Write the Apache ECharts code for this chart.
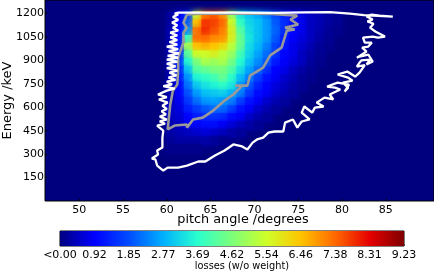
<!DOCTYPE html>
<html><head><meta charset="utf-8">
<style>html,body{margin:0;padding:0;background:#fff}#c{width:434px;height:273px}</style>
<script src="https://cdn.jsdelivr.net/npm/echarts@6/dist/echarts.min.js"></script>
</head><body><div id="c"></div>
<script>
const xTicks=[50,55,60,65,70,75,80,85];
const yTicks=[150,300,450,600,750,900,1050,1200];
const barLabels=['<0.00','0.92','1.85','2.77','3.69','4.62','5.54','6.46','7.38','8.31','9.23'];
const jet=['#00007f','#0000ff','#004cff','#00b0ff','#29ffce','#7dff7a','#ceff29','#ffc400','#ff6800','#e60000','#7f0000'];
const angleBins=[60.5,61.5,62.5,63.5,64.5,65.5,66.5,67.5,68.5,69.5,70.5,71.5,72.5,73.5,74.5,75.5,76.5,77.5,78.5,79.5,80.5];
const energyBins=[1185,1135,1085,1035,985,935,885,835,785,735,685,635,585,535,485,435,385,335];
const r1185=[.2,.9,1.6,5.5,7.2,7.5,7.0,5.0,3.4,3.0,2.7,2.3,1.8,1.4,1.0,.7,.5,.4,.25,.15,0];
const r1135=[.2,1.0,2.0,6.4,7.8,7.7,7.4,5.6,3.8,3.2,3.0,2.6,2.0,1.5,1.1,.8,.5,.4,.25,.15,0];
const r1085=[.3,1.0,2.5,7.2,7.9,7.6,7.2,5.8,4.2,3.3,3.0,2.6,2.1,1.5,1.0,.8,.5,.35,.2,.1,0];
const r1035=[.3,1.0,3.8,7.3,7.4,7.1,7.0,5.8,4.4,3.4,3.0,2.6,2.0,1.3,.9,.7,.5,.3,.15,0,0];
const r985=[.3,1.1,5.0,6.5,6.7,6.5,6.2,5.4,4.4,3.3,2.9,2.4,1.8,1.2,.8,.6,.4,.2,.1,0,0];
const r935=[.3,1.2,4.2,5.6,5.6,5.8,5.4,5.0,4.0,3.2,2.7,2.2,1.6,1.0,.8,.5,.3,.15,0,0,0];
const r885=[.3,1.5,3.6,4.6,5.2,5.0,5.2,4.6,3.7,3.0,2.5,2.0,1.3,.9,.7,.5,.25,.1,0,0,0];
const r835=[.3,1.3,3.0,4.2,4.4,4.6,4.6,4.2,3.4,2.7,2.2,1.6,1.0,.8,.5,.3,.15,0,0,0,0];
const r785=[.3,1.2,2.5,3.6,3.8,4.0,4.4,3.8,3.0,2.4,1.8,1.2,.9,.6,.4,.2,.1,0,0,0,0];
const r735=[.3,1.0,2.2,3.1,3.4,3.6,3.8,3.5,2.6,2.0,1.4,1.0,.7,.5,.3,.15,0,0,0,0,0];
const r685=[.3,.9,1.9,2.6,3.0,3.1,3.2,2.9,2.4,1.7,1.1,.9,.6,.4,.2,0,0,0,0,0,0];
const r635=[.4,.8,1.6,2.2,2.6,2.7,2.6,2.4,1.8,1.2,.9,.6,.4,.2,0,0,0,0,0,0,0];
const r585=[.5,.7,1.3,1.7,2.0,2.2,2.2,1.8,1.2,.9,.6,.4,.2,0,0,0,0,0,0,0,0];
const r535=[.5,.6,1.0,1.3,1.5,1.6,1.5,1.1,.9,.6,.4,.2,0,0,0,0,0,0,0,0,0];
const r485=[.4,.5,.9,1.0,1.1,1.1,.9,.7,.5,.3,.15,0,0,0,0,0,0,0,0,0,0];
const r435=[.3,.4,.5,.6,.7,.6,.5,.3,.2,0,0,0,0,0,0,0,0,0,0,0,0];
const r385=[.2,.3,.3,.3,.3,.2,.1,0,0,0,0,0,0,0,0,0,0,0,0,0,0];
const r335=[.1,.1,.1,.1,0,0,0,0,0,0,0,0,0,0,0,0,0,0,0,0,0];
const heatRows=[r1185,r1135,r1085,r1035,r985,r935,r885,r835,r785,r735,r685,r635,r585,r535,r485,r435,r385,r335];
const whiteLine=[[85.8,1181],[84.3,1187],[83.4,1194],[82.8,1181],[83.5,1162],[82.9,1150],[83,1142],[83.6,1135],[83.2,1110],[83.8,1085],[84.9,1053],[84.1,1046],[83.5,1053],[82.4,1046],[82.6,1014],[83.4,1014],[83,989],[82.3,982],[82.8,957],[81.7,918],[82,925],[83,938],[83.5,893],[82.8,874],[83.2,905],[82.2,900],[82,886],[81.7,861],[82.6,870],[82,822],[81.5,797],[80.6,829],[79.5,810],[80.7,790],[81.2,770],[80.1,758],[80.7,726],[80.3,701],[80.8,745],[79.5,758],[78.3,733],[79.2,726],[79.8,714],[78.6,682],[79,650],[78,662],[77.1,630],[77.9,605],[76.9,598],[76.6,566],[75.7,605],[75.4,566],[76.3,522],[75.4,509],[74.9,470],[74.4,522],[73.5,502],[73.3,445],[72.3,445],[71.6,438],[71,406],[70.3,394],[69.8,374],[69.2,330],[68.6,349],[67.6,362],[66.6,323],[65.5,291],[64.4,253],[63.6,253],[62.3,227],[61.3,214],[60.1,214],[59.6,195],[58.9,227],[58.7,266],[58.3,272],[59,298],[58.9,323],[59.5,342],[59.5,406],[59.6,451],[58.9,483],[59.8,495],[59.2,510],[60,522],[59.2,540],[59.9,555],[59.4,575],[60,590],[59.5,610],[60.1,630],[59.1,650],[60,665],[59,682],[60,707],[60.9,720],[59.6,735],[60.6,746],[60,765],[61,775],[60.2,790],[61.1,805],[60.3,822],[61.2,835],[60,850],[61,862],[60,880],[61.2,892],[60,905],[61.3,918],[60.1,930],[61.4,945],[60.2,960],[61.3,972],[60,989],[61.2,1002],[60.3,1018],[61.2,1030],[60.4,1048],[61.2,1060],[60.4,1078],[61.3,1092],[60.7,1110],[61.2,1125],[60.6,1142],[61.3,1160],[60.7,1178],[61.3,1194],[60.9,1200],[61.3,1206],[63.6,1206],[67.8,1206],[72.3,1204],[75.7,1208],[78.6,1210],[80.9,1200],[82.5,1190],[85.8,1181]];
const grayLine=[[62.3,1194],[61.9,1142],[62.3,1110],[61.9,1078],[61.9,1014],[61.3,918],[61.3,842],[61.2,746],[60.7,707],[60.4,618],[60.1,458],[60.9,483],[62.3,490],[62.3,470],[63,522],[64.1,534],[65.3,579],[66.6,643],[67.6,682],[68.6,739],[67.8,739],[69.2,739],[69.5,803],[71,854],[71.8,932],[73.1,982],[73.7,1091],[74.6,1098],[73.5,1110],[75,1130],[74.1,1162],[74.9,1187],[72,1198],[68,1201],[64,1200],[62.3,1194]];
const heatData=[];
heatRows.forEach((row,i)=>row.forEach((v,j)=>{if(v>0)heatData.push([angleBins[j],energyBins[i],v]);}));
const chart=echarts.init(document.getElementById('c'),null,{renderer:'canvas'});
const font='DejaVu Sans';
chart.setOption({
 animation:false,backgroundColor:'#fff',
 grid:[{left:45,right:0,top:0,height:201,show:true,outerBoundsMode:'none',containLabel:false,backgroundColor:'#00007f',borderColor:'#000',borderWidth:1},
       {left:60,right:30,top:231,height:15,show:true,outerBoundsMode:'none',containLabel:false,borderColor:'#000',borderWidth:1}],
 visualMap:[{show:false,seriesIndex:0,dimension:2,min:0,max:9.23,inRange:{color:jet}}],
 xAxis:[{type:'value',gridIndex:0,min:46.1,max:90.5,splitLine:{show:false},
   axisLine:{show:false},axisTick:{inside:true,length:2,customValues:xTicks,lineStyle:{color:'#000'}},
   axisLabel:{customValues:xTicks,color:'#000',fontFamily:font,fontSize:11,margin:4},
   name:'pitch angle /degrees',nameLocation:'middle',nameGap:12,nameMoveOverlap:false,nameTextStyle:{color:'#000',fontFamily:font,fontSize:12.8,padding:[0,0,0,7]}},
  {type:'value',gridIndex:1,min:0,max:10,interval:1,splitLine:{show:false},axisLine:{show:false},
   axisTick:{inside:true,length:2,lineStyle:{color:'rgba(0,0,0,0.35)'}},
   axisLabel:{color:'#000',fontFamily:font,fontSize:11,margin:4,hideOverlap:false,showMinLabel:true,showMaxLabel:true,formatter:(v)=>barLabels[Math.round(v)]},
   name:'losses (w/o weight)',nameLocation:'middle',nameGap:15,nameMoveOverlap:false,nameTextStyle:{color:'#000',fontFamily:font,fontSize:9.8,padding:[0,0,0,20]}}],
 yAxis:[{type:'value',gridIndex:0,min:0,max:1287,splitLine:{show:false},
   axisLine:{show:false},axisTick:{inside:true,length:2,customValues:yTicks,lineStyle:{color:'#000'}},
   axisLabel:{customValues:yTicks,color:'#000',fontFamily:font,fontSize:11,margin:1,formatter:(v)=>String(v)},
   name:'Energy /keV',nameLocation:'middle',nameGap:31,nameMoveOverlap:false,nameTextStyle:{color:'#000',fontFamily:font,fontSize:13}},
  {type:'value',gridIndex:1,min:0,max:1,show:false}],
 series:[
  {type:'custom',coordinateSystem:'cartesian2d',xAxisIndex:0,yAxisIndex:0,data:heatData,encode:{x:0,y:1},clip:true,z:1,
   renderItem(p,api){
    const a=api.coord([api.value(0)-0.5,api.value(1)+25]),b=api.coord([api.value(0)+0.5,api.value(1)-25]);
    const c=api.visual('color');
    return {type:'rect',shape:{x:a[0]-.5,y:a[1]-.5,width:b[0]-a[0]+1,height:b[1]-a[1]+1},style:{fill:c,shadowColor:c,shadowBlur:6}};
   }},
  {type:'line',xAxisIndex:0,yAxisIndex:0,data:grayLine,showSymbol:false,clip:true,z:3,lineStyle:{color:'#999',width:2.6},silent:true},
  {type:'line',xAxisIndex:0,yAxisIndex:0,data:whiteLine,showSymbol:false,clip:true,z:4,lineStyle:{color:'#fff',width:2.3},silent:true},
  {type:'custom',coordinateSystem:'cartesian2d',xAxisIndex:1,yAxisIndex:1,data:[[0,0]],z:1,
   renderItem(p,api){
    const a=api.coord([0,1]),b=api.coord([10,0]);
    return {type:'rect',shape:{x:a[0],y:a[1],width:b[0]-a[0],height:b[1]-a[1]},
     style:{fill:new echarts.graphic.LinearGradient(0,0,1,0,jet.map((c,i)=>({offset:i/(jet.length-1),color:c})))}};
   }}
 ]
});
</script></body></html>
